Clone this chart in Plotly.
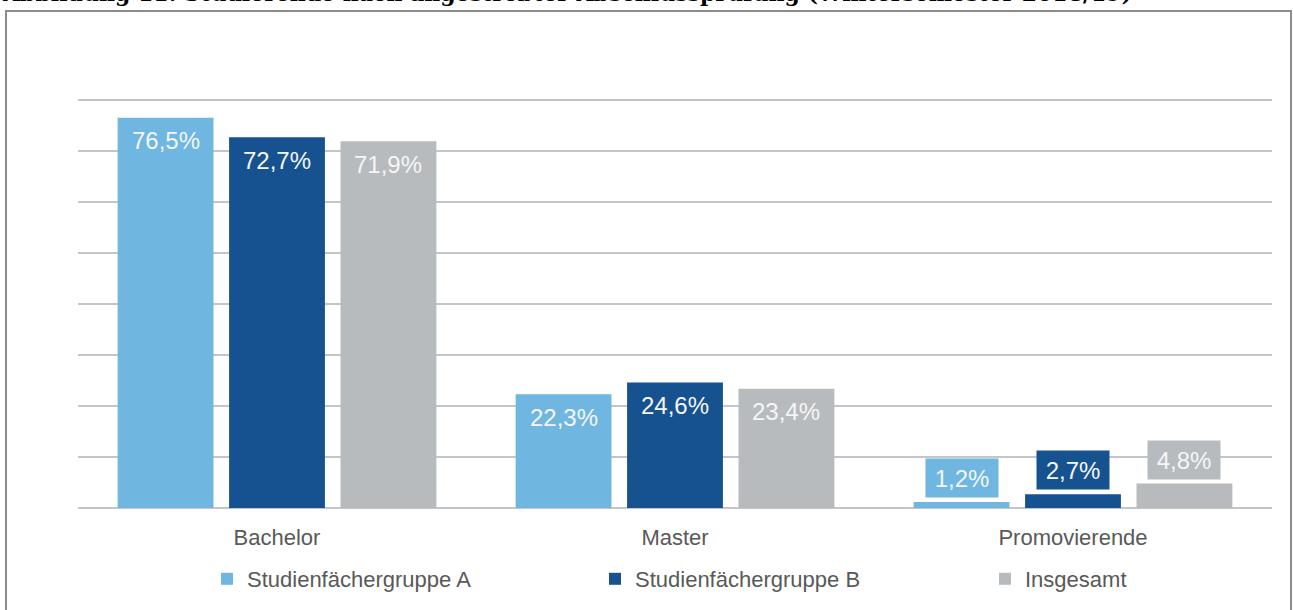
import plotly.graph_objects as go

categories = ["Bachelor", "Master", "Promovierende"]
series_names = ["Studienfächergruppe A", "Studienfächergruppe B", "Insgesamt"]
values_a = [76.5, 22.3, 1.2]
values_b = [72.7, 24.6, 2.7]
values_total = [71.9, 23.4, 4.8]
series_values = [values_a, values_b, values_total]
colors = ["#6FB6E1", "#175290", "#B7BBBE"]
title_text = "Abbildung 11: Studierende nach angestrebter Abschlussprüfung (Wintersemester 2018/19)"

W, H = 1293, 610
ML, MR, MT, MB = 78, 21, 49, 102
PW = W - ML - MR
PH = H - MT - MB
BARGAP = 0.16
BARGROUPGAP = 0.14
FONT = "Liberation Sans, Arial, sans-serif"
TEXT_GREY = "#595959"
GRID = "#C3C6C9"
legend_symbol_centers_px = [227, 615, 1005]
legend_center_y_px = 579

def px_to_paper_x(px):
    return (px - ML) / PW

def px_to_paper_y(py):
    return 1 + (MT - py) / PH

legend_ids = ["legend", "legend2", "legend3"]
fig = go.Figure()
for name, vals, col, lid in zip(series_names, series_values, colors, legend_ids):
    fig.add_trace(go.Bar(x=categories, y=vals, name=name, legend=lid,
                         marker=dict(color=col, line=dict(width=0))))

slot_px = PW / len(categories) * (1 - BARGAP) / len(series_names)
annotations = []
for si, (vals, col) in enumerate(zip(series_values, colors)):
    for ci, (cat, v) in enumerate(zip(categories, vals)):
        xs = (si - (len(series_names) - 1) / 2) * slot_px
        label = f"{v:.1f}".replace(".", ",") + "%"
        if v > 10:
            annotations.append(dict(x=cat, y=v, xref="x", yref="y", text=label, showarrow=False,
                                    xshift=xs, yshift=-23, yanchor="middle",
                                    font=dict(family=FONT, size=24, color="#F4F6F8")))
        else:
            annotations.append(dict(x=cat, y=v, xref="x", yref="y", text=label, showarrow=False,
                                    xshift=xs, yshift=4, yanchor="bottom", bgcolor=col,
                                    width=66, height=32, borderpad=3,
                                    font=dict(family=FONT, size=24, color="#F4F6F8")))

annotations.append(dict(x=px_to_paper_x(0), y=px_to_paper_y(-7), xref="paper", yref="paper",
                        text="<b>" + title_text + "</b>", showarrow=False, xanchor="left", yanchor="middle",
                        font=dict(family="DejaVu Serif, serif", size=22, color="#000000")))

shapes = [dict(type="rect", xref="paper", yref="paper",
               x0=px_to_paper_x(6), x1=px_to_paper_x(1291), y0=px_to_paper_y(630), y1=px_to_paper_y(11),
               line=dict(color="#8C8C8C", width=2), fillcolor="rgba(0,0,0,0)", layer="below")]

legend_common = dict(orientation="h", yref="container", xref="container",
                     y=1 - legend_center_y_px / H, xanchor="left", yanchor="middle",
                     font=dict(family=FONT, size=22, color=TEXT_GREY), bgcolor="rgba(0,0,0,0)",
                     borderwidth=0)
legends = {}
for lid, cx in zip(legend_ids, legend_symbol_centers_px):
    legends[lid] = dict(legend_common, x=(cx - 20) / W)

fig.update_layout(
    width=W, height=H,
    margin=dict(l=ML, r=MR, t=MT, b=MB, pad=0, autoexpand=False),
    paper_bgcolor="white", plot_bgcolor="white",
    barmode="group", bargap=BARGAP, bargroupgap=BARGROUPGAP,
    separators=",.",
    showlegend=True,
    xaxis=dict(showgrid=False, showline=False, ticks="outside", ticklen=10, tickcolor="rgba(0,0,0,0)",
               tickfont=dict(family=FONT, size=22, color=TEXT_GREY), automargin=False),
    yaxis=dict(range=[0, 90], dtick=10, showgrid=True, gridcolor=GRID, gridwidth=1.6,
               zeroline=True, zerolinecolor=GRID, zerolinewidth=1.6, showticklabels=False,
               showline=False, automargin=False),
    annotations=annotations,
    shapes=shapes,
    **legends,
)

fig.write_html("out.html", config={"displayModeBar": False},
               post_script="document.body.style.margin='0';document.body.style.overflow='hidden';")
